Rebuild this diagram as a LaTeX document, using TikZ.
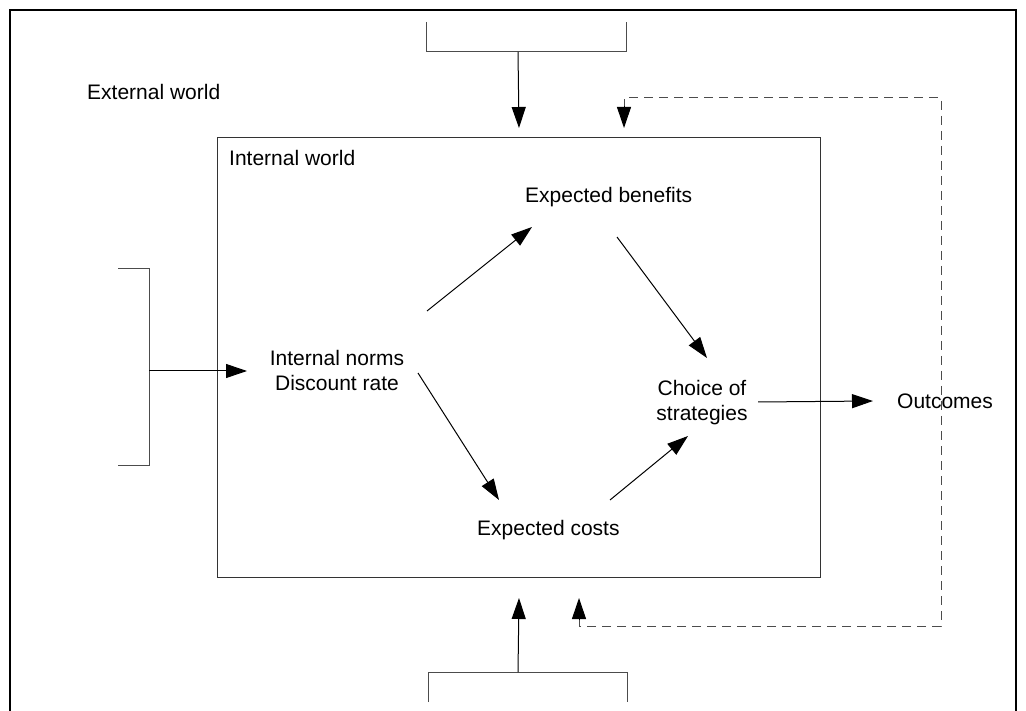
\documentclass[tikz,border=0pt]{standalone}
\usepackage{fontspec}
\setmainfont{Liberation Sans}
\usetikzlibrary{arrows.meta}
\begin{document}
\begin{tikzpicture}[x=1pt,y=-1pt,
  lbl/.style={inner sep=0pt, font=\fontsize{21}{25}\selectfont},
  frame/.style={line width=2pt, black},
  bracket/.style={line width=1pt, black!70},
  arr/.style={line width=1pt, black, -{Triangle[length=21pt,width=14pt]}},
  fb/.style={line width=1pt, black!70, dash pattern=on 9pt off 6pt}]
\useasboundingbox (0,0) rectangle (1026,711);

% outer frame (external world), open at the bottom
\draw[frame] (10,711) -- (10,10) -- (1016,10) -- (1016,711);
\node[lbl, anchor=base west] (ext) at (87,100) {External world};

% internal world box
\node[draw=black!80, line width=1pt, minimum width=603pt, minimum height=440pt,
      anchor=north west, inner sep=0pt] (inner) at (217,137) {};
\node[lbl, anchor=base west] (intw) at (229,166) {Internal world};

% labels inside
\node[lbl, anchor=base west] (ben) at (525,203) {Expected benefits};
\node[lbl, align=center] (norms) at (337,370) {Internal norms\\Discount rate};
\node[lbl, align=center] (choice) at (702,403) {Choice of\\strategies};
\node[lbl, anchor=base west] (costs) at (477,535) {Expected costs};
\node[lbl, anchor=base west] (out) at (897,408) {Outcomes};

% top input bracket
\draw[bracket] (426,22) |- (626,52) -- (626,22);
\coordinate (tb) at (518,52);
\draw[arr] (tb) -- ([yshift=9pt]inner.north);

% left input bracket
\draw[bracket] (118,269) -| (149,465) -- (118,465);
\coordinate (lb) at (149,371);
\coordinate (lbtip) at (247,371);
\draw[arr] (lb) -- (lbtip);

% bottom input bracket
\draw[bracket] (428,702) |- (627,672) -- (627,702);
\coordinate (bb) at (518,672);
\draw[arr] (bb) -- ([yshift=-20pt]inner.south);

% feedback loop: dashed line with solid heads at both ends
\coordinate (fbtop) at (624,128);
\coordinate (fbbot) at (579,598);
\draw[fb] ([yshift=20pt]fbtop) |- (941,98) |- (579,626) -- ([yshift=-20pt]fbbot);
\draw[arr] ([yshift=22pt]fbtop) -- (fbtop);
\draw[arr] ([yshift=-22pt]fbbot) -- (fbbot);

% internal arrows
\draw[arr] ([shift={(90,-59)}]norms.center) -- ([shift={(7,24)}]ben.base west);
\draw[arr] ([shift={(81,3)}]norms.center) -- ([shift={(22,-35)}]costs.base west);
\draw[arr] ([shift={(92,34)}]ben.base west) -- ([shift={(5,-45)}]choice.center);
\draw[arr] ([shift={(133,-35)}]costs.base west) -- ([shift={(-14,33)}]choice.center);
\draw[arr] ([shift={(56,-1)}]choice.center) -- ([shift={(-24,-7)}]out.base west);
\end{tikzpicture}
\end{document}
